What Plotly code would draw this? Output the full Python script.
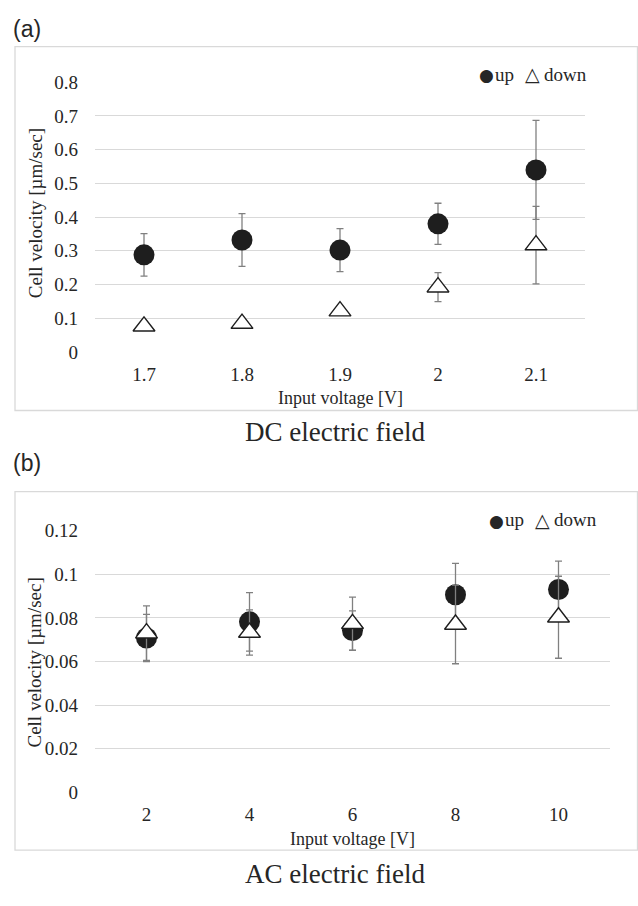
import plotly.graph_objects as go

# ---------------- data ----------------
dc_voltage = ["1.7", "1.8", "1.9", "2", "2.1"]
dc_up = [0.288, 0.332, 0.302, 0.380, 0.540]
dc_up_err = [0.063, 0.078, 0.064, 0.061, 0.147]
dc_down = [0.076, 0.084, 0.121, 0.192, 0.317]
dc_down_err = [0.006, 0.006, 0.008, 0.043, 0.115]
dc_yticks = [0, 0.1, 0.2, 0.3, 0.4, 0.5, 0.6, 0.7, 0.8]
dc_yticklabels = ["0", "0.1", "0.2", "0.3", "0.4", "0.5", "0.6", "0.7", "0.8"]

ac_voltage = ["2", "4", "6", "8", "10"]
ac_up = [0.0708, 0.0782, 0.0742, 0.0906, 0.0930]
ac_up_err = [0.0108, 0.0134, 0.0090, 0.0144, 0.0130]
ac_down = [0.0730, 0.0733, 0.0773, 0.0770, 0.0803]
ac_down_err = [0.0125, 0.0104, 0.0122, 0.0180, 0.0188]
ac_yticks = [0, 0.02, 0.04, 0.06, 0.08, 0.1, 0.12]
ac_yticklabels = ["0", "0.02", "0.04", "0.06", "0.08", "0.1", "0.12"]

# ---------------- layout helpers ----------------
W, H = 638, 906
def px(x):
    return x / W
def py(y):
    return 1 - y / H

SERIF = "Liberation Serif, Times New Roman, serif"
SANS = "Liberation Sans, Arial, sans-serif"
TXT = "#262626"
GRID = "#d9d9d9"
ERR = "#808080"

fig = go.Figure()

def add_panel(xcats, up, uperr, down, downerr, xa, ya):
    fig.add_trace(go.Scatter(
        x=xcats, y=up, mode="markers", name="up", showlegend=False,
        xaxis=xa, yaxis=ya,
        marker=dict(symbol="circle", size=21, color="#1e1e1e",
                    line=dict(width=0)),
        error_y=dict(type="data", array=uperr, visible=True,
                     color=ERR, thickness=1.3, width=3.5),
    ))
    fig.add_trace(go.Scatter(
        x=xcats, y=down, mode="markers", name="down", showlegend=False,
        xaxis=xa, yaxis=ya,
        marker=dict(symbol="triangle-up", size=19, color="white",
                    line=dict(width=1.4, color="#1e1e1e")),
        error_y=dict(type="data", array=downerr, visible=True,
                     color=ERR, thickness=1.3, width=3.5),
    ))

add_panel(dc_voltage, dc_up, dc_up_err, dc_down, dc_down_err, "x", "y")
add_panel(ac_voltage, ac_up, ac_up_err, ac_down, ac_down_err, "x2", "y2")

axis_font = dict(family=SERIF, size=19, color=TXT)
common_x = dict(type="category", range=[-0.5, 4.5], showgrid=False,
                zeroline=False, showline=False, ticks="",
                tickfont=axis_font, ticklabelstandoff=9)
common_y = dict(showgrid=True, gridcolor=GRID, gridwidth=1.3, zeroline=False,
                showline=False, ticks="", tickfont=axis_font,
                ticklabelstandoff=16)

fig.update_layout(
    width=W, height=H,
    margin=dict(l=0, r=0, t=0, b=0),
    paper_bgcolor="white", plot_bgcolor="white",
    xaxis=dict(common_x, domain=[px(95), px(585)], anchor="y"),
    yaxis=dict(common_y, domain=[py(350), py(74)], anchor="x",
               range=[0, 0.8], tickvals=dc_yticks, ticktext=dc_yticklabels),
    xaxis2=dict(common_x, domain=[px(95), px(610)], anchor="y2"),
    yaxis2=dict(common_y, domain=[py(801), py(533)], anchor="x2",
                range=[0, 0.12], tickvals=ac_yticks, ticktext=ac_yticklabels),
)

# frames around each chart
for (y0, y1) in [(37.5, 410), (493, 860)]:
    fig.add_shape(type="rect", xref="paper", yref="paper",
                  x0=px(15), x1=px(637.5), y0=py(y1), y1=py(y0),
                  line=dict(color=GRID, width=1.3), fillcolor="rgba(0,0,0,0)",
                  layer="below")

ann = []
def text(x, y, s, size, family=SERIF, xanchor="center", angle=0):
    ann.append(dict(x=px(x), y=py(y), xref="paper", yref="paper", text=s,
                    showarrow=False, xanchor=xanchor, yanchor="middle",
                    textangle=angle, borderpad=0,
                    font=dict(family=family, size=size, color=TXT)))

# panel labels
text(12, 19, "(a)", 23, family=SANS, xanchor="left")
text(12, 464, "(b)", 23, family=SANS, xanchor="left")
# axis titles
text(35, 208, "Cell velocity [µm/sec]", 19, angle=-90)
text(35, 668, "Cell velocity [µm/sec]", 19, angle=-90)
text(340, 397, "Input voltage [V]", 18)
text(352, 849, "Input voltage [V]", 18)
# field titles
text(335, 432, "DC electric field", 27)
text(335, 885, "AC electric field", 27)
# legends
for (x0, y0) in [(478, 67), (488, 523)]:
    text(x0, y0, "●", 17, family="DejaVu Sans", xanchor="left")
    text(x0 + 16, y0 - 1, "up", 19, xanchor="left")
    text(x0 + 46, y0 - 1, "△", 19, family="DejaVu Sans", xanchor="left")
    text(x0 + 65, y0 - 1, "down", 19, xanchor="left")

fig.update_layout(annotations=ann)

fig.write_html("out.html",
               config={"displayModeBar": False},
               post_script="document.body.style.margin='0';"
                           "document.body.style.overflow='hidden';")
